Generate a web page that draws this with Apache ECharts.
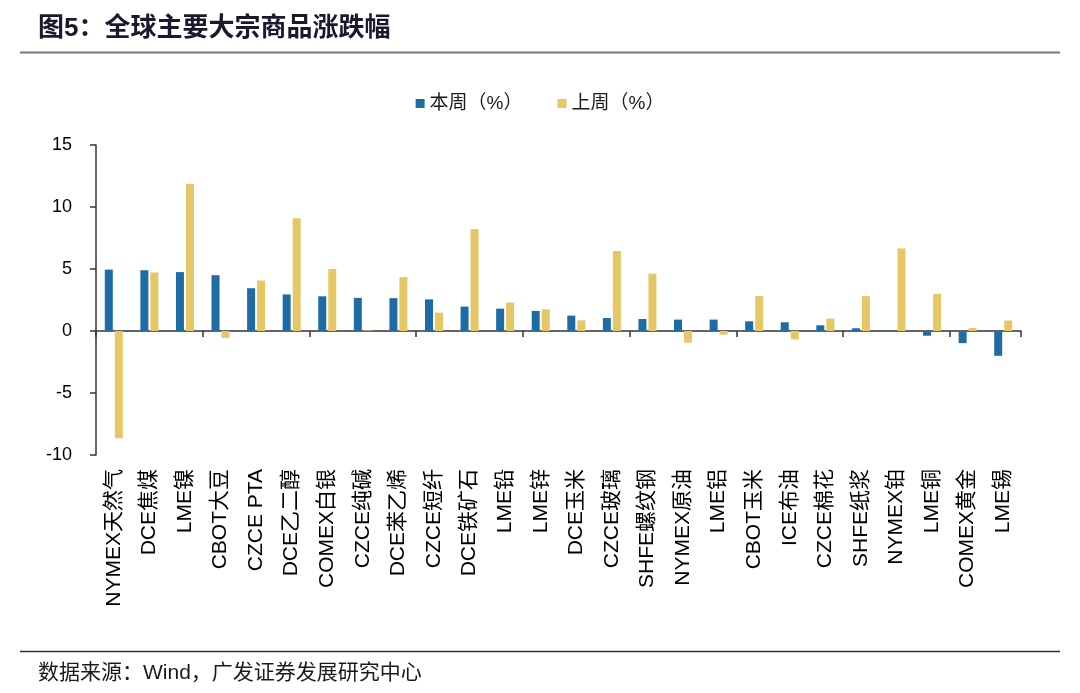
<!DOCTYPE html>
<html>
<head>
<meta charset="utf-8">
<script src="https://cdn.jsdelivr.net/npm/echarts@6/dist/echarts.min.js"></script>
<style>
html,body{margin:0;padding:0;background:#fff;}
#chart{width:1080px;height:693px;}
</style>
</head>
<body>
<div id="chart"></div>
<script>
const categories = ['NYMEX天然气','DCE焦煤','LME镍','CBOT大豆','CZCE PTA','DCE乙二醇','COMEX白银','CZCE纯碱','DCE苯乙烯','CZCE短纤','DCE铁矿石','LME铅','LME锌','DCE玉米','CZCE玻璃','SHFE螺纹钢','NYMEX原油','LME铝','CBOT玉米','ICE布油','CZCE棉花','SHFE纸浆','NYMEX铂','LME铜','COMEX黄金','LME锡'];
const thisWeek = [4.95, 4.9, 4.75, 4.5, 3.45, 2.95, 2.8, 2.67, 2.65, 2.55, 1.97, 1.8, 1.62, 1.24, 1.05, 0.97, 0.92, 0.92, 0.78, 0.7, 0.46, 0.22, 0.05, -0.38, -0.98, -2.0];
const lastWeek = [-8.65, 4.72, 11.87, -0.55, 4.07, 9.1, 5.0, 0.05, 4.35, 1.48, 8.23, 2.29, 1.75, 0.86, 6.45, 4.62, -0.94, -0.3, 2.81, -0.68, 1.0, 2.81, 6.66, 3.0, 0.24, 0.84];
const seriesNames = ['本周（%）', '上周（%）'];
const yTicks = {min: -10, max: 15, interval: 5};
const titleText = '图5：全球主要大宗商品涨跌幅';
const sourceText = '数据来源：Wind，广发证券发展研究中心';

const font = '"Liberation Sans", Arial, "Noto Sans CJK SC", sans-serif';
const chart = echarts.init(document.getElementById('chart'), null, {renderer: 'canvas'});
chart.setOption({
  backgroundColor: '#ffffff',
  animation: false,
  textStyle: {fontFamily: font},
  graphic: [
    {type: 'text', left: 38, top: 16, style: {text: titleText, fontSize: 26, fontWeight: 'bold', fill: '#1a1a2e', fontFamily: font}},
    {type: 'line', shape: {x1: 20, y1: 52.5, x2: 1060, y2: 52.5}, style: {stroke: '#777', lineWidth: 2}},
    {type: 'line', shape: {x1: 20, y1: 651.5, x2: 1060, y2: 651.5}, style: {stroke: '#333', lineWidth: 1.5}},
    {type: 'text', left: 38, top: 663, style: {text: sourceText, fontSize: 21, fill: '#1a1a1a', fontFamily: font}}
  ],
  legend: {
    top: 89, left: 'center',
    itemWidth: 9, itemHeight: 9, itemGap: 35,
    icon: 'rect',
    textStyle: {fontSize: 19, color: '#1a1a1a', fontFamily: font},
    data: seriesNames
  },
  grid: {left: 96, right: 59, top: 145, bottom: 238, containLabel: false},
  xAxis: [
    {
      type: 'category', data: categories, position: 'bottom',
      axisLine: {show: false, onZero: false}, axisTick: {show: false},
      axisLabel: {rotate: 90, interval: 0, fontSize: 21, color: '#000', margin: 14, fontFamily: font}
    },
    {
      type: 'category', data: categories, position: 'bottom',
      axisLine: {show: true, onZero: true, lineStyle: {color: '#333', width: 1.5}},
      axisTick: {show: true, length: 6, lineStyle: {color: '#333', width: 1.5}},
      axisLabel: {show: false}
    }
  ],
  yAxis: {
    type: 'value', min: yTicks.min, max: yTicks.max, interval: yTicks.interval,
    axisLine: {show: true, lineStyle: {color: '#333', width: 1.5}},
    axisTick: {show: true, length: 6, lineStyle: {color: '#333', width: 1.5}},
    splitLine: {show: false},
    axisLabel: {fontSize: 18, color: '#000', margin: 24, fontFamily: font}
  },
  series: [
    {name: seriesNames[0], type: 'bar', xAxisIndex: 0, data: thisWeek, barWidth: 8, barGap: '25%', itemStyle: {color: '#1f6ba6'}},
    {name: seriesNames[1], type: 'bar', xAxisIndex: 0, data: lastWeek, barWidth: 8, barGap: '25%', itemStyle: {color: '#e5c765'}}
  ]
});
</script>
</body>
</html>
